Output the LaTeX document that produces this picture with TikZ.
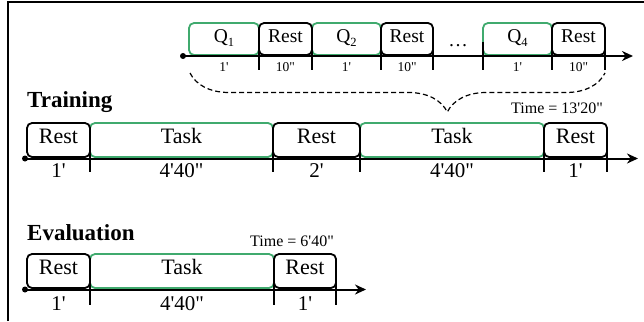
\documentclass[tikz,border=0pt]{standalone}
\usepackage{fontspec}
\setmainfont{Liberation Serif}[Ligatures=TeXOff]
\usetikzlibrary{arrows.meta,decorations.pathreplacing}
\definecolor{tgreen}{RGB}{64,170,110}
\newcommand{\qsub}[1]{Q\raisebox{-4.5pt}{\fontsize{12.5}{13}\selectfont #1}}
\begin{document}
\begin{tikzpicture}[x=1pt,y=-1pt,
  blk/.style={draw=black, line width=1.8pt, rounded corners=5pt, inner sep=0pt, text height=0.66em, text depth=0pt},
  grn/.style={blk, draw=tgreen},
  topbox/.style={minimum height=32pt, font=\fontsize{19.5}{21}\selectfont},
  midbox/.style={minimum height=34pt, font=\fontsize{22}{24}\selectfont},
  axisline/.style={line width=2pt, -{Stealth[length=11pt,width=10pt]}},
  tickline/.style={line width=1.6pt},
  dot/.style={circle, fill=black, inner sep=0pt, minimum size=6pt},
  durS/.style={anchor=base, inner sep=0pt, font=\fontsize{13.5}{14}\selectfont},
  durL/.style={anchor=base, inner sep=0pt, font=\fontsize{21}{23}\selectfont},
  head/.style={anchor=base west, inner sep=0pt, font=\fontsize{23}{25}\selectfont\bfseries},
  timelbl/.style={anchor=base, inner sep=0pt, font=\fontsize{16}{18}\selectfont},
  bracestyle/.style={dashed, dash pattern=on 5pt off 3pt, line width=1.2pt, decorate,
     decoration={brace, mirror, amplitude=39pt, aspect=0.62}}
]
\useasboundingbox (0,0) rectangle (644,321);
% frame
\coordinate (fa) at (8,321);
\coordinate (fb) at (8,2);
\coordinate (fc) at (644,2);
\draw[line width=1.3pt] (fa) -- (fb) -- (fc);

% ---------- top row ----------
\node[grn, topbox, minimum width=70pt] (q1) at (224,39) {\qsub{1}};
\node[grn, topbox, minimum width=69pt] (q2) at (346.5,39) {\qsub{2}};
\node[grn, topbox, minimum width=69pt] (q4) at (517.5,39) {\qsub{4}};
\node[blk, topbox, minimum width=53pt] (r1) at (285.5,39) {Rest};
\node[blk, topbox, minimum width=52pt] (r2) at (407,39) {Rest};
\node[blk, topbox, minimum width=53pt] (r4) at (578.5,39) {Rest};
\node[anchor=base, inner sep=0pt, font=\fontsize{19.5}{21}\selectfont] (dots) at (458,46) {\ldots};
\node[dot] (d0) at (183,56) {};
\coordinate (e0) at (633,56);
\draw[axisline] (d0.center) -- (e0);
\foreach \x [count=\i] in {259,312,381,433,483,552,605}{
  \coordinate (ta\i) at (\x,42);
  \coordinate (tb\i) at (\x,70);
  \draw[tickline] (ta\i) -- (tb\i);
}
\node[durS] (l1) at (224,71) {1'};
\node[durS] (l2) at (285.5,71) {10"};
\node[durS] (l3) at (346.5,71) {1'};
\node[durS] (l4) at (407,71) {10"};
\node[durS] (l5) at (517.5,71) {1'};
\node[durS] (l6) at (578.5,71) {10"};
% brace
\coordinate (bl) at (190,73);
\coordinate (br) at (605,73);
\draw[bracestyle] (bl) -- (br);

% ---------- training ----------
\node[head] (train) at (27,107) {Training};
\node[timelbl] (time1) at (557,113) {Time = 13'20"};
\node[grn, midbox, minimum width=183pt] (tk1) at (181.5,140) {Task};
\node[grn, midbox, minimum width=184pt] (tk2) at (452,140) {Task};
\node[blk, midbox, minimum width=63pt] (tr1) at (58.5,140) {Rest};
\node[blk, midbox, minimum width=87pt] (tr2) at (316.5,140) {Rest};
\node[blk, midbox, minimum width=63pt] (tr3) at (575.5,140) {Rest};
\node[dot] (d1) at (25,158.5) {};
\coordinate (e1) at (638,158.5);
\draw[axisline] (d1.center) -- (e1);
\foreach \x [count=\i] in {90,273,360,544,607}{
  \coordinate (tc\i) at (\x,150);
  \coordinate (td\i) at (\x,172);
  \draw[tickline] (tc\i) -- (td\i);
}
\node[durL] (m1) at (58.5,177) {1'};
\node[durL] (m2) at (181.5,177) {4'40"};
\node[durL] (m3) at (316.5,177) {2'};
\node[durL] (m4) at (452,177) {4'40"};
\node[durL] (m5) at (575.5,177) {1'};

% ---------- evaluation ----------
\node[head] (eval) at (27,240) {Evaluation};
\node[timelbl] (time2) at (292,246) {Time = 6'40"};
\node[grn, midbox, minimum width=184pt] (ek1) at (182,271) {Task};
\node[blk, midbox, minimum width=63pt] (er1) at (58.5,271) {Rest};
\node[blk, midbox, minimum width=62pt] (er2) at (305,271) {Rest};
\node[dot] (d2) at (25,289.5) {};
\coordinate (e2) at (366,289.5);
\draw[axisline] (d2.center) -- (e2);
\foreach \x [count=\i] in {90,274,336}{
  \coordinate (te\i) at (\x,281);
  \coordinate (tf\i) at (\x,305);
  \draw[tickline] (te\i) -- (tf\i);
}
\node[durL] (n1) at (58.5,310) {1'};
\node[durL] (n2) at (182,310) {4'40"};
\node[durL] (n3) at (305,310) {1'};
\end{tikzpicture}
\end{document}
